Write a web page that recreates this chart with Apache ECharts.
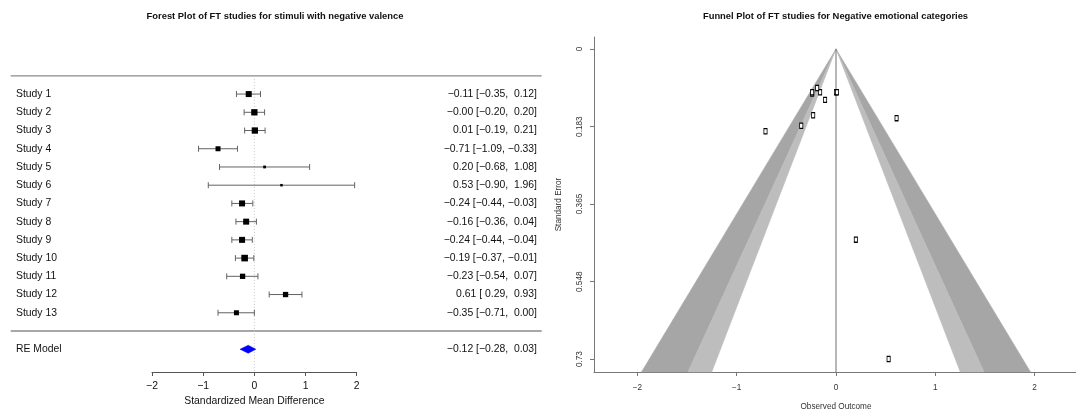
<!DOCTYPE html>
<html>
<head>
<meta charset="utf-8">
<script src="https://cdn.jsdelivr.net/npm/echarts@6/dist/echarts.min.js"></script>
<style>
html,body{margin:0;padding:0;background:#fff;}
#chart{width:1076px;height:412px;}
</style>
</head>
<body>
<div id="chart"></div>
<script>
// ---------------- DATA ----------------
const studies = ['Study 1','Study 2','Study 3','Study 4','Study 5','Study 6','Study 7','Study 8','Study 9','Study 10','Study 11','Study 12','Study 13'];
const estimates = [-0.11, -0.00, 0.01, -0.71, 0.20, 0.53, -0.24, -0.16, -0.24, -0.19, -0.23, 0.61, -0.35];
const lowerCI   = [-0.35, -0.20, -0.19, -1.09, -0.68, -0.90, -0.44, -0.36, -0.44, -0.37, -0.54, 0.29, -0.71];
const upperCI   = [0.12, 0.20, 0.21, -0.33, 1.08, 1.96, -0.03, 0.04, -0.04, -0.01, 0.07, 0.93, 0.00];
const pooledLabel = 'RE Model';
const pooledEstimate = [-0.12, -0.28, 0.03]; // est, lower, upper
const standardErrors = [0.120, 0.102, 0.102, 0.194, 0.449, 0.730, 0.105, 0.102, 0.102, 0.092, 0.156, 0.163, 0.181];
const forestTicks = [-2, -1, 0, 1, 2];
const funnelXTicks = [-2, -1, 0, 1, 2];
const funnelYTicks = [0, 0.183, 0.365, 0.548, 0.73];
const contourZ = [1.645, 1.96, 2.576]; // 90%, 95%, 99%

// ---------------- STYLE ----------------
const boxSizes = [6, 6.3, 6.3, 5, 2.8, 2.5, 6, 6, 6, 6.6, 5.3, 5.3, 5];
const FONT = '"Liberation Sans", Arial, Helvetica, sans-serif';
const K = studies.length;
const rowOf = i => K - i;           // Study 1 at top
const FOREST_TOP_ROW = K + 1;
const SEP_ROW = 0;
const RE_ROW = -1;
const FOREST_YMIN = -2.25, FOREST_YMAX = 16;
const SE_MAX = 0.7605, SE_MIN = -0.028;
const FX_MIN = -2.437, FX_MAX = 2.437;

function isNeg(v){ return v < 0 || Object.is(v, -0); }
function f2(v){ return (isNeg(v) ? '\u2212' : '') + Math.abs(v).toFixed(2); }
function ciText(e, l, u){
  return f2(e) + ' [' + (isNeg(l) ? '' : ' ') + f2(l) + ', ' + (isNeg(u) ? '' : ' ') + f2(u) + ']';
}

const forestData = studies.map((s, i) => [estimates[i], lowerCI[i], upperCI[i], rowOf(i), boxSizes[i]]);
const labelData = studies.map((s, i) => [0, rowOf(i), i]).concat([[0, RE_ROW, -1]]);

const chart = echarts.init(document.getElementById('chart'), null, {renderer: 'canvas'});

const option = {
  backgroundColor: '#ffffff',
  animation: false,
  title: [
    {text: 'Forest Plot of FT studies for stimuli with negative valence', left: 275, top: 11.5, padding: 0,
     textAlign: 'center', textStyle: {fontSize: 9.4, fontWeight: 'bold', fontFamily: FONT, color: '#111'}},
    {text: 'Funnel Plot of FT studies for Negative emotional categories', left: 835.5, top: 11.5, padding: 0,
     textAlign: 'center', textStyle: {fontSize: 9.4, fontWeight: 'bold', fontFamily: FONT, color: '#111'}}
  ],
  grid: [
    {left: 152, width: 204.7, top: 39.4, height: 332.6, containLabel: false, outerBoundsMode: 'none'},
    {left: 594, width: 484, top: 37, height: 335, containLabel: false, outerBoundsMode: 'none'}
  ],
  xAxis: [
    {gridIndex: 0, type: 'value', min: -2, max: 2, interval: 1,
     axisLine: {show: true, onZero: false, lineStyle: {color: '#555', width: 1}},
     axisTick: {show: true, length: 4, lineStyle: {color: '#555'}},
     axisLabel: {margin: 9, fontSize: 10.4, fontFamily: FONT, color: '#111',
       formatter: v => (v < 0 ? '\u2212' + Math.abs(v) : String(v))},
     splitLine: {show: false},
     name: 'Standardized Mean Difference', nameLocation: 'middle', nameGap: 24,
     nameTextStyle: {fontSize: 10.4, fontFamily: FONT, color: '#111'}},
    {gridIndex: 1, type: 'value', min: FX_MIN, max: FX_MAX,
     axisLine: {show: true, onZero: false, lineStyle: {color: '#777', width: 1}},
     axisTick: {show: true, length: 4, customValues: funnelXTicks, lineStyle: {color: '#777'}},
     axisLabel: {margin: 12, fontSize: 8.2, fontFamily: FONT, color: '#333', customValues: funnelXTicks,
       formatter: v => (v < 0 ? '\u2212' + Math.abs(v) : String(v))},
     splitLine: {show: false},
     name: 'Observed Outcome', nameLocation: 'middle', nameGap: 31,
     nameTextStyle: {fontSize: 8.2, fontFamily: FONT, color: '#333'}}
  ],
  yAxis: [
    {gridIndex: 0, type: 'value', min: FOREST_YMIN, max: FOREST_YMAX, show: false},
    {gridIndex: 1, type: 'value', min: SE_MIN, max: SE_MAX, inverse: true,
     axisLine: {show: true, onZero: false, lineStyle: {color: '#777', width: 1}},
     axisTick: {show: true, length: 4, customValues: funnelYTicks, lineStyle: {color: '#777'}},
     axisLabel: {rotate: 90, margin: 10, fontSize: 8.2, fontFamily: FONT, color: '#333', customValues: funnelYTicks,
       formatter: v => String(v)},
     splitLine: {show: false},
     name: 'Standard Error', nameLocation: 'middle', nameRotate: 90, nameGap: 31,
     nameTextStyle: {fontSize: 8.2, fontFamily: FONT, color: '#333'}}
  ],
  series: [
    // Forest: horizontal rule lines
    {type: 'custom', xAxisIndex: 0, yAxisIndex: 0, z: 1, silent: true,
     data: [[0, FOREST_TOP_ROW], [0, SEP_ROW]],
     renderItem: (params, api) => {
       const p = api.coord([0, api.value(1)]);
       return {type: 'line', shape: {x1: 10.7, y1: p[1], x2: 541.7, y2: p[1]},
               style: {stroke: '#8a8a8a', lineWidth: 1.3}};
     }},
    // Forest: dotted reference line at 0
    {type: 'custom', xAxisIndex: 0, yAxisIndex: 0, z: 1, silent: true,
     data: [[0, FOREST_TOP_ROW, FOREST_YMIN]],
     renderItem: (params, api) => {
       const a = api.coord([api.value(0), api.value(1)]);
       const b = api.coord([api.value(0), api.value(2)]);
       return {type: 'line', shape: {x1: a[0], y1: a[1], x2: b[0], y2: b[1]},
               style: {stroke: '#c4c4c4', lineWidth: 1, lineDash: [1, 2]}};
     }},
    // Forest: study CIs and boxes
    {type: 'custom', xAxisIndex: 0, yAxisIndex: 0, z: 3, silent: true,
     encode: {x: [0, 1, 2], y: 3},
     data: forestData,
     renderItem: (params, api) => {
       const row = api.value(3);
       const pe = api.coord([api.value(0), row]);
       const pl = api.coord([api.value(1), row]);
       const pu = api.coord([api.value(2), row]);
       const s = api.value(4);
       const c = '#636363';
       return {type: 'group', children: [
         {type: 'line', shape: {x1: pl[0], y1: pl[1], x2: pu[0], y2: pu[1]}, style: {stroke: c, lineWidth: 1}},
         {type: 'line', shape: {x1: pl[0], y1: pl[1] - 3, x2: pl[0], y2: pl[1] + 3}, style: {stroke: c, lineWidth: 1}},
         {type: 'line', shape: {x1: pu[0], y1: pu[1] - 3, x2: pu[0], y2: pu[1] + 3}, style: {stroke: c, lineWidth: 1}},
         {type: 'rect', shape: {x: pe[0] - s / 2, y: pe[1] - s / 2, width: s, height: s}, style: {fill: '#000'}}
       ]};
     }},
    // Forest: RE diamond
    {type: 'custom', xAxisIndex: 0, yAxisIndex: 0, z: 3, silent: true,
     data: [[pooledEstimate[0], pooledEstimate[1], pooledEstimate[2], RE_ROW]],
     renderItem: (params, api) => {
       const row = api.value(3);
       const pe = api.coord([api.value(0), row]);
       const pl = api.coord([api.value(1), row]);
       const pu = api.coord([api.value(2), row]);
       return {type: 'polygon', shape: {points: [[pl[0], pl[1]], [pe[0], pe[1] - 4], [pu[0], pu[1]], [pe[0], pe[1] + 4]]},
               style: {fill: '#0000ff', stroke: '#0000ff', lineWidth: 0.5}};
     }},
    // Forest: left labels and right text column
    {type: 'custom', xAxisIndex: 0, yAxisIndex: 0, z: 4, silent: true,
     data: labelData,
     renderItem: (params, api) => {
       const p = api.coord([0, api.value(1)]);
       const i = api.value(2);
       const name = i >= 0 ? studies[i] : pooledLabel;
       const txt = i >= 0 ? ciText(estimates[i], lowerCI[i], upperCI[i])
                          : ciText(pooledEstimate[0], pooledEstimate[1], pooledEstimate[2]);
       return {type: 'group', children: [
         {type: 'text', style: {text: name, x: 16, y: p[1], fontSize: 10.4, fontFamily: FONT, fill: '#111',
                                textAlign: 'left', textVerticalAlign: 'middle'}},
         {type: 'text', style: {text: txt, x: 537, y: p[1], fontSize: 10.4, fontFamily: FONT, fill: '#111',
                                textAlign: 'right', textVerticalAlign: 'middle'}}
       ]};
     }},
    // Funnel: contour regions
    {type: 'custom', xAxisIndex: 1, yAxisIndex: 1, z: 1, silent: true,
     data: [[0]],
     renderItem: (params, api) => {
       const apex = api.coord([0, 0]);
       const pt = z => api.coord([z * SE_MAX, SE_MAX]);
       const poly = (za, zb, sign, fill) => ({type: 'polygon',
         shape: {points: [apex, pt(sign * za), pt(sign * zb)]},
         style: {fill: fill, stroke: fill, lineWidth: 0.5}});
       return {type: 'group', children: [
         poly(contourZ[1], contourZ[2], -1, '#a6a6a6'),
         poly(contourZ[1], contourZ[2], 1, '#a6a6a6'),
         poly(contourZ[0], contourZ[1], -1, '#bdbdbd'),
         poly(contourZ[0], contourZ[1], 1, '#bdbdbd')
       ]};
     }},
    // Funnel: reference line
    {type: 'custom', xAxisIndex: 1, yAxisIndex: 1, z: 2, silent: true,
     data: [[0, 0, SE_MAX]],
     renderItem: (params, api) => {
       const a = api.coord([api.value(0), api.value(1)]);
       const b = api.coord([api.value(0), api.value(2)]);
       return {type: 'line', shape: {x1: a[0], y1: a[1], x2: b[0], y2: b[1]},
               style: {stroke: '#6e6e6e', lineWidth: 1}};
     }},
    // Funnel: points
    {type: 'scatter', xAxisIndex: 1, yAxisIndex: 1, z: 5, silent: true,
     symbol: 'rect', symbolSize: [3.2, 5.2],
     itemStyle: {color: '#ffffff', borderColor: '#000', borderWidth: 1, opacity: 1},
     data: estimates.map((e, i) => [e, standardErrors[i]])}
  ]
};
chart.setOption(option);
</script>
</body>
</html>
